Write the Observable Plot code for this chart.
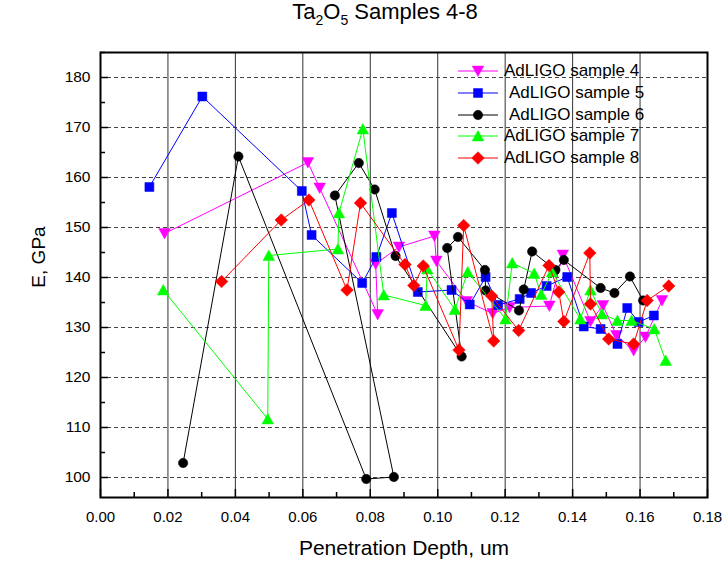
<!DOCTYPE html>
<html><head><meta charset="utf-8">
<script src="https://cdn.jsdelivr.net/npm/d3@7"></script>
<script src="https://cdn.jsdelivr.net/npm/@observablehq/plot@0.6"></script>
<style>
body{margin:0;background:#fff;font-family:"Liberation Sans",Arial,sans-serif;}
#wrap{position:relative;width:724px;height:563px;overflow:hidden;}
#title{position:absolute;left:0;top:1px;width:770px;text-align:center;font-size:22px;line-height:22px;color:#000;}
#title sub{font-size:14px;vertical-align:-6px;line-height:0;}
#chart{position:absolute;left:0;top:42px;}
.lg{position:absolute;height:20px;}
.lg span{position:absolute;left:46px;top:0;font-size:17px;line-height:20px;white-space:nowrap;color:#000;}
</style></head><body>
<div id="wrap">
<div id="title">Ta<sub>2</sub>O<sub>5</sub> Samples 4-8</div>
<div id="chart"></div>
<div id="legend"></div>
</div>
<script>
// ---- data ----
const seriesNames = ["AdLIGO sample 4","AdLIGO sample 5","AdLIGO sample 6","AdLIGO sample 7","AdLIGO sample 8"];
const seriesColors = ["#ff00ff","#0000ff","#000000","#00ff00","#ff0000"];

const s4x = [0.0190,0.0615,0.0650,0.0822,0.0816,0.0885,0.0990,0.0996,0.1086,0.1163,0.1213,0.1331,0.1371,0.1453,0.1490,0.1530,0.1581,0.1616,0.1665];
const s4y = [148.8,163.0,157.9,132.6,142.7,146.1,148.3,143.3,135.2,132.8,134.0,134.3,144.5,131.2,134.4,128.4,125.4,128.1,135.4];

const s5x = [0.0145,0.0302,0.0597,0.0626,0.0776,0.0818,0.0864,0.0941,0.1041,0.1095,0.1142,0.1179,0.1243,0.1277,0.1323,0.1384,0.1433,0.1483,0.1533,0.1562,0.1596,0.1641];
const s5y = [158.1,176.2,157.3,148.5,138.9,144.1,152.9,137.1,137.5,134.6,140.1,134.5,135.7,136.9,138.3,140.1,130.2,129.7,126.7,133.9,131.1,132.4];

const s6x = [0.0245,0.0409,0.0788,0.0870,0.0695,0.0766,0.0813,0.0875,0.1071,0.1028,0.1060,0.1140,0.1142,0.1241,0.1255,0.1280,0.1349,0.1374,0.1483,0.1524,0.1570,0.1609];
const s6y = [102.9,164.2,99.7,100.1,156.4,162.9,157.6,144.3,124.2,145.9,148.1,141.5,137.4,133.4,137.6,145.2,141.5,143.5,137.9,136.9,140.2,135.4];

const s7x = [0.0186,0.0496,0.0499,0.0704,0.0707,0.0778,0.0840,0.0964,0.0969,0.1051,0.1089,0.1201,0.1221,0.1286,0.1307,0.1339,0.1423,0.1453,0.1487,0.1533,0.1575,0.1642,0.1676];
const s7y = [137.5,111.7,144.4,145.7,152.9,169.7,136.5,134.4,141.7,133.6,141.1,131.7,142.9,140.8,136.6,141.1,131.7,137.5,132.7,131.4,131.4,129.7,123.4];

const s8x = [0.0359,0.0536,0.0618,0.0731,0.0771,0.0903,0.0929,0.0957,0.1063,0.1077,0.1166,0.1160,0.1240,0.1330,0.1359,0.1374,0.1451,0.1453,0.1507,0.1581,0.1621,0.1685];
const s8y = [139.2,151.5,155.5,137.5,154.9,142.6,138.4,142.3,125.5,150.4,127.3,136.3,129.4,142.4,137.1,131.2,144.9,134.7,127.7,126.7,135.4,138.3];

const xMajor = [0,0.02,0.04,0.06,0.08,0.10,0.12,0.14,0.16,0.18];
const xMinor = [0.01,0.03,0.05,0.07,0.09,0.11,0.13,0.15,0.17];
const yMajor = [100,110,120,130,140,150,160,170,180];
const yMinor = [105,115,125,135,145,155,165,175,185];
const xGrid = [0.02,0.04,0.06,0.08,0.10,0.12,0.14,0.16];
const xLabel = "Penetration Depth, um";
const yLabel = "E, GPa";

// ---- symbols ----
const poly = (pts) => ({draw(ctx, size){const r = Math.sqrt(size/Math.PI); ctx.moveTo(pts[0][0]*r, pts[0][1]*r); for (let i=1;i<pts.length;i++) ctx.lineTo(pts[i][0]*r, pts[i][1]*r); ctx.closePath();}});
const triDown = poly([[-1,-0.85],[1,-0.85],[0,0.95]]);
const triUp = poly([[-1,0.85],[1,0.85],[0,-0.95]]);
const diamond = poly([[0,-1],[1,0],[0,1],[-1,0]]);
const square = poly([[-1,-1],[1,-1],[1,1],[-1,1]]);
const circle = {draw(ctx, size){const r = Math.sqrt(size/Math.PI); ctx.moveTo(r,0); ctx.arc(0,0,r,0,2*Math.PI);}};
const symbols = [triDown, square, circle, triUp, diamond];
const symR = [5.8, 4.5, 4.7, 5.8, 6.3];

const xs = [s4x,s5x,s6x,s7x,s8x], ys = [s4y,s5y,s6y,s7y,s8y];
const tables = xs.map((X, k) => X.map((x, i) => ({x, y: ys[k][i]})));

const seriesMarks = tables.flatMap((t, k) => [
  Plot.line(t, {x: "x", y: "y", stroke: seriesColors[k], strokeWidth: 1}),
  Plot.dot(t, {x: "x", y: "y", symbol: symbols[k], r: symR[k], fill: seriesColors[k], stroke: seriesColors[k], strokeWidth: 0.5})
]);

const chart = Plot.plot({
  width: 724, height: 521,
  marginLeft: 100, marginRight: 17, marginTop: 10, marginBottom: 66,
  x: {domain: [0, 0.18]},
  y: {domain: [96, 185]},
  style: {fontFamily: "Liberation Sans, Arial, sans-serif", background: "white", color: "black", overflow: "visible"},
  marks: [
    Plot.ruleX(xGrid, {stroke: "#333", strokeWidth: 1}),
    Plot.ruleY(yMajor, {stroke: "#444", strokeWidth: 1, strokeDasharray: "4,3"}),
    ...seriesMarks,
    Plot.axisX(xMajor, {tickSize: 0, tickPadding: 14, tickFormat: d => d.toFixed(2), fontSize: 15, label: null}),
    Plot.axisX(xMajor, {tickSize: -8, tickFormat: () => "", label: null, strokeWidth: 1.5}),
    Plot.axisX(xMinor, {tickSize: -5, tickFormat: () => "", label: null, strokeWidth: 1.5}),
    Plot.axisY(yMajor, {tickSize: 0, tickPadding: 10, tickFormat: d => String(d), fontSize: 15.5, label: null}),
    Plot.axisY(yMajor, {tickSize: -8, tickFormat: () => "", label: null, strokeWidth: 1.5}),
    Plot.axisY(yMinor, {tickSize: -5, tickFormat: () => "", label: null, strokeWidth: 1.5}),
    Plot.frame({stroke: "black", strokeWidth: 2}),
    Plot.text([xLabel], {text: d => d, frameAnchor: "bottom", dy: 57, fontSize: 21}),
    Plot.text([yLabel], {text: d => d, frameAnchor: "left", textAnchor: "middle", rotate: -90, dx: -62, dy: -18, fontSize: 19})
  ]
});
document.getElementById("chart").appendChild(chart);

// ---- legend ----
const legend = document.getElementById("legend");
seriesNames.forEach((name, k) => {
  const row = document.createElement("div");
  row.className = "lg";
  row.style.left = "458px";
  row.style.top = (60.7 + 21.9 * k) + "px";
  const svg = d3.create("svg").attr("width", 42).attr("height", 20).style("position","absolute").style("left","0").style("top","0");
  svg.append("line").attr("x1", 0).attr("x2", 40).attr("y1", 10).attr("y2", 10).attr("stroke", seriesColors[k]).attr("stroke-width", 1);
  const r = symR[k];
  svg.append("path").attr("transform", "translate(20,10)").attr("d", d3.symbol(symbols[k], r * r * Math.PI)()).attr("fill", seriesColors[k]).attr("stroke", seriesColors[k]).attr("stroke-width", 0.5);
  row.appendChild(svg.node());
  const sp = document.createElement("span");
  sp.textContent = name;
  if (k === 1 || k === 2) sp.style.left = "51px";
  row.appendChild(sp);
  legend.appendChild(row);
});
</script>
</body></html>
